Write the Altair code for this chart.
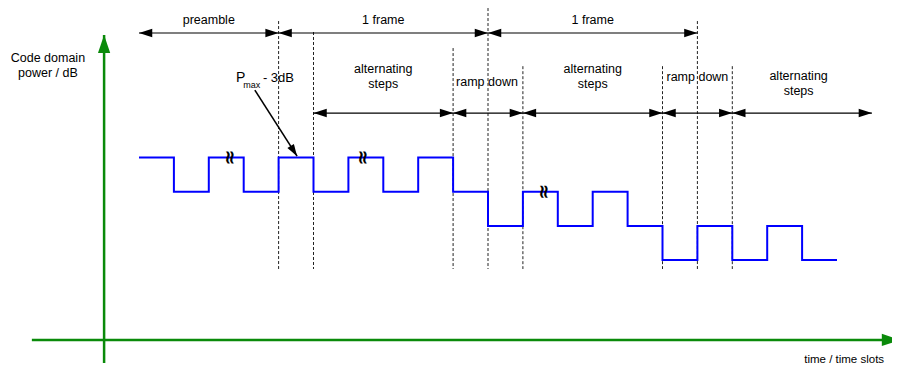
import altair as alt
import pandas as pd

# ---------------- data ----------------
# step signal: relative code-domain power level (dB steps) at each time slot boundary
slots = list(range(21))
levels = [0, -1, 0, -1, 0, -1, 0, -1, 0, -1, -2, -1, -2, -1, -2, -3, -2, -3, -2, -3, -3]

# dashed slot-boundary markers
marker_t = [4, 5, 9, 10, 11, 15, 16, 17]
marker_top = [3.99, 3.67, 3.20, 4.37, 2.67, 2.67, 3.99, 2.67]
marker_bottom = -3.26

# double-headed span arrows
span_start = [0, 4, 10, 5, 9, 11, 15, 17]
span_end = [4, 10, 16, 9, 11, 15, 17, 21]
span_level = [3.64, 3.64, 3.64, 1.30, 1.30, 1.30, 1.30, 1.30]

# centred labels
label_text = ["preamble", "1 frame", "1 frame",
              "alternating", "steps", "alternating", "steps", "alternating", "steps",
              "ramp down", "ramp down",
              "Code domain", "power / dB"]
label_t = [2.0, 7.0, 13.0, 7.0, 7.0, 13.0, 13.0, 18.9, 18.9, 9.97, 16.0, -2.61, -2.61]
label_l = [4.02, 4.02, 4.02, 2.58, 2.16, 2.58, 2.16, 2.38, 1.94, 2.21, 2.35, 2.91, 2.47]

# axis title (right aligned)
xtitle = "time / time slots"
xtitle_t, xtitle_l = 21.35, -5.92

# P_max annotation
pmax_parts = ["P", "max", "- 3dB"]
pmax_t = [2.78, 2.99, 3.55]
pmax_l = [2.21, 2.03, 2.21]
pmax_size = [14, 9, 13]
pmax_arrow = dict(t=3.32, l=1.97, t2=4.53, l2=0.04)

# break symbols on the signal
brk_t = [2.62, 6.42, 11.6]
brk_l = [0.0, 0.0, -1.0]

# green coordinate axes
vaxis = dict(t=-1.0, l=-6.01, l2=3.58)
haxis = dict(l=-5.336, t=-3.07, t2=21.8)

# ---------------- layout (pixel mapping) ----------------
W, H = 884, 360
SLOT_PX, T0_PX = 34.9, 139 - 8
LEV_PX, L0_PX = 34.2, 157.5 - 8
xs = alt.Scale(domain=[(0 - T0_PX) / SLOT_PX, (W - T0_PX) / SLOT_PX], nice=False, zero=False)
ys = alt.Scale(domain=[(L0_PX - H) / LEV_PX, L0_PX / LEV_PX], nice=False, zero=False)

FONT = "Liberation Sans"
GREEN = "#0a8a0a"
BLUE = "#0000ff"


def X(f="t"):
    return alt.X(f"{f}:Q", scale=xs, axis=None)


def Y(f="l"):
    return alt.Y(f"{f}:Q", scale=ys, axis=None)


HEAD = "M0,0L-1,-0.32L-1,0.32Z"

# signal
sig = pd.DataFrame({"t": slots, "l": levels})
signal = alt.Chart(sig).mark_line(interpolate="step-after", color=BLUE, strokeWidth=2).encode(x=X(), y=Y())

# markers
mk = pd.DataFrame({"t": marker_t, "l": marker_top, "l2": [marker_bottom] * len(marker_t)})
markers = alt.Chart(mk).mark_rule(color="#222222", strokeWidth=1, strokeDash=[3, 2]).encode(
    x=X(), y=Y(), y2=alt.Y2("l2:Q"))

# spans
sp = pd.DataFrame({"t": span_start, "t2": span_end, "l": span_level})
spans = alt.Chart(sp).mark_rule(color="black", strokeWidth=1.2).encode(x=X(), x2=alt.X2("t2:Q"), y=Y())

heads_rows = []
for a, b, l in zip(span_start, span_end, span_level):
    heads_rows.append({"t": a, "l": l, "ang": 180})
    heads_rows.append({"t": b, "l": l, "ang": 0})
hd = pd.DataFrame(heads_rows)
heads = alt.Chart(hd).mark_point(shape=HEAD, filled=True, color="black", opacity=1, size=700, strokeWidth=0).encode(
    x=X(), y=Y(), angle=alt.Angle("ang:Q", scale=None))

# labels
lb = pd.DataFrame({"t": label_t, "l": label_l, "txt": label_text})
labels = alt.Chart(lb).mark_text(font=FONT, fontSize=12.5, color="black", align="center", baseline="middle").encode(
    x=X(), y=Y(), text="txt:N")

xt = pd.DataFrame({"t": [xtitle_t], "l": [xtitle_l], "txt": [xtitle]})
xtitle_layer = alt.Chart(xt).mark_text(font=FONT, fontSize=11.5, color="black", align="right", baseline="middle").encode(
    x=X(), y=Y(), text="txt:N")

# Pmax annotation
pm_layers = []
for txt, t, l, s in zip(pmax_parts, pmax_t, pmax_l, pmax_size):
    d = pd.DataFrame({"t": [t], "l": [l], "txt": [txt]})
    pm_layers.append(alt.Chart(d).mark_text(font=FONT, fontSize=s, color="black", align="left",
                                            baseline="alphabetic").encode(x=X(), y=Y(), text="txt:N"))
pa = pd.DataFrame([pmax_arrow])
pm_line = alt.Chart(pa).mark_rule(color="black", strokeWidth=1.6).encode(
    x=X(), y=Y(), x2=alt.X2("t2:Q"), y2=alt.Y2("l2:Q"))
ph = pd.DataFrame({"t": [pmax_arrow["t2"]], "l": [pmax_arrow["l2"]], "ang": [57.5]})
pm_head = alt.Chart(ph).mark_point(shape=HEAD, filled=True, color="black", opacity=1, size=576, strokeWidth=0).encode(
    x=X(), y=Y(), angle=alt.Angle("ang:Q", scale=None))

# break symbols
bk = pd.DataFrame({"t": brk_t, "l": brk_l, "txt": ["≈"] * len(brk_t)})
breaks = alt.Chart(bk).mark_text(font="DejaVu Sans", fontSize=19, fontWeight="bold", color="black", angle=90,
                                 align="center", baseline="middle").encode(x=X(), y=Y(), text="txt:N")

# green axes
va = pd.DataFrame([vaxis])
vline = alt.Chart(va).mark_rule(color=GREEN, strokeWidth=2.5).encode(x=X(), y=Y(), y2=alt.Y2("l2:Q"))
ha = pd.DataFrame([haxis])
hline = alt.Chart(ha).mark_rule(color=GREEN, strokeWidth=2.5).encode(x=X(), x2=alt.X2("t2:Q"), y=Y())
ah = pd.DataFrame({"t": [vaxis["t"], haxis["t2"]], "l": [vaxis["l2"], haxis["l"]], "ang": [270, 0]})
axis_heads = alt.Chart(ah).mark_point(shape="M0,0L-1,-0.34L-1,0.34Z", filled=True, color=GREEN, opacity=1,
                                      size=1296, strokeWidth=0).encode(
    x=X(), y=Y(), angle=alt.Angle("ang:Q", scale=None))

chart = alt.layer(
    vline, hline, axis_heads, markers, signal, breaks, spans, heads, labels, xtitle_layer,
    pm_line, pm_head, *pm_layers
).properties(
    width=W, height=H, autosize=alt.AutoSizeParams(type="none"), padding=0
).configure_view(strokeWidth=0)

chart.save("out.html", embed_options={"renderer": "svg", "actions": False})
